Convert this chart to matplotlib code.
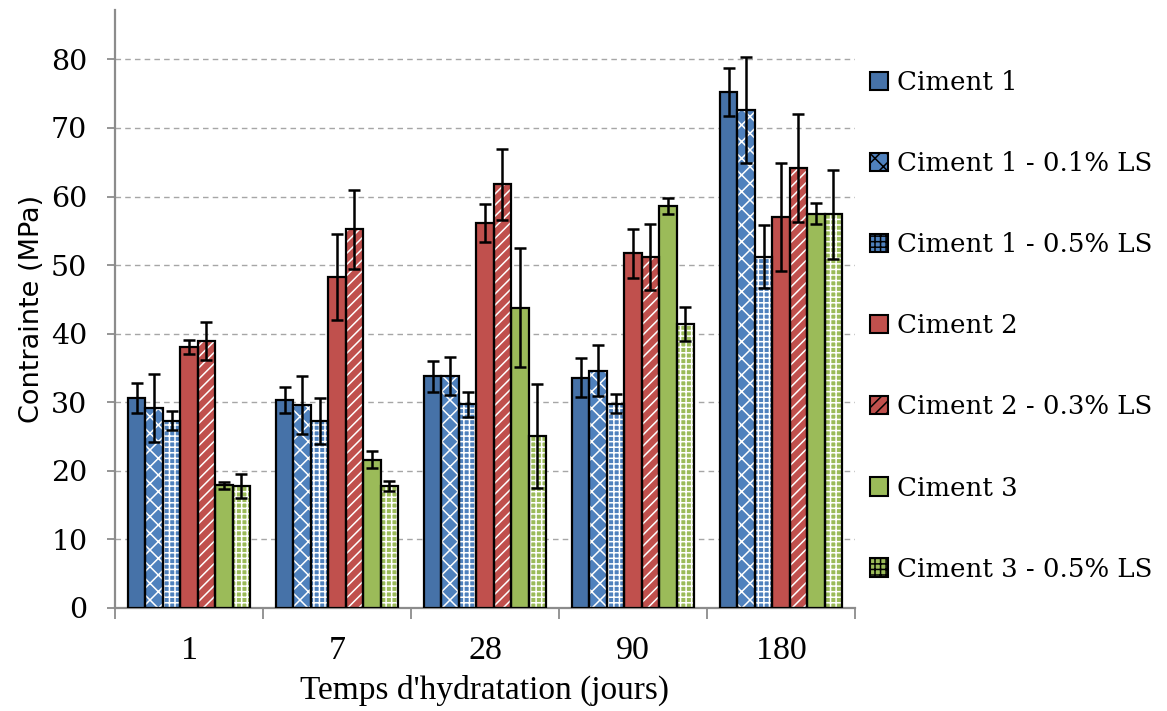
import matplotlib
matplotlib.use("Agg")
import matplotlib.pyplot as plt
import numpy as np
from matplotlib.patches import Patch

groups = ['1', '7', '28', '90', '180']
series_names = ['Ciment 1', 'Ciment 1 - 0.1% LS', 'Ciment 1 - 0.5% LS',
                'Ciment 2', 'Ciment 2 - 0.3% LS', 'Ciment 3', 'Ciment 3 - 0.5% LS']

c1 = [30.6, 30.3, 33.8, 33.6, 75.2]
c1_err = [2.2, 1.9, 2.25, 2.85, 3.5]
c1_01 = [29.15, 29.6, 33.8, 34.6, 72.6]
c1_01_err = [5.0, 4.3, 2.75, 3.7, 7.7]
c1_05 = [27.3, 27.3, 29.7, 29.8, 51.2]
c1_05_err = [1.4, 3.35, 1.85, 1.4, 4.6]
c2 = [38.1, 48.3, 56.1, 51.7, 57.0]
c2_err = [1.0, 6.25, 2.8, 3.6, 7.85]
c2_03 = [38.9, 55.2, 61.8, 51.2, 64.2]
c2_03_err = [2.8, 5.7, 5.15, 4.85, 7.85]
c3 = [17.9, 21.6, 43.8, 58.6, 57.5]
c3_err = [0.5, 1.25, 8.7, 1.2, 1.5]
c3_05 = [17.8, 17.8, 25.1, 41.4, 57.4]
c3_05_err = [1.7, 0.7, 7.6, 2.45, 6.5]

values = [c1, c1_01, c1_05, c2, c2_03, c3, c3_05]
errors = [c1_err, c1_01_err, c1_05_err, c2_err, c2_03_err, c3_err, c3_05_err]

colors = ['#4672A8', '#4F81BD', '#4F81BD', '#C0504D', '#C0504D', '#9BBB59', '#9BBB59']
hatches = [None, 'xx', '+++', None, '///', None, '+++']

plt.rcParams['hatch.linewidth'] = 1.1

fig = plt.figure(figsize=(11.67, 7.11), dpi=100)
ax = fig.add_axes([115/1167, 1 - 608/711, 740/1167, 598/711])

x = np.arange(len(groups))
bw = 0.1178
n = len(values)
for i, (vals, errs) in enumerate(zip(values, errors)):
    pos = x + (i - (n - 1) / 2) * bw
    ax.bar(pos, vals, width=bw, color=colors[i], hatch=hatches[i],
           edgecolor='white', linewidth=0, zorder=2)
    ax.bar(pos, vals, width=bw, facecolor='none', edgecolor='black',
           linewidth=1.6, zorder=3)
    ax.errorbar(pos, vals, yerr=errs, fmt='none', ecolor='black',
                elinewidth=1.8, capsize=4.5, capthick=1.8, zorder=4)

ax.set_xlim(-0.5, len(groups) - 0.5)
ax.set_ylim(0, 87.2)
ax.set_yticks(np.arange(0, 81, 10))
ax.set_yticklabels([str(v) for v in range(0, 81, 10)], fontfamily='DejaVu Serif', fontsize=20.5)
ax.set_xticks(x)
ax.set_xticklabels(groups, fontfamily='Liberation Serif', fontsize=24.5)
ax.set_xticks(np.arange(-0.5, len(groups), 1), minor=True)
ax.tick_params(axis='x', which='major', length=0, pad=20)
ax.tick_params(axis='x', which='minor', length=8, color='#8C8C8C', width=1.3)
ax.tick_params(axis='y', length=6, color='#8C8C8C', width=1.3, pad=14)

for yv in range(10, 81, 10):
    ax.axhline(yv, color='#A6A6A6', linestyle=(0, (4, 3)), linewidth=1.0, zorder=1)

for s in ['top', 'right']:
    ax.spines[s].set_visible(False)
for s in ['left', 'bottom']:
    ax.spines[s].set_color('#8C8C8C')
    ax.spines[s].set_linewidth(1.6)

ax.set_xlabel("Temps d'hydratation (jours)", fontfamily='Liberation Serif', fontsize=24,
              va='center')
ax.xaxis.set_label_coords(0.5, -(690 - 608) / 598)
ax.set_ylabel('Contrainte (MPa)', fontfamily='DejaVu Sans', fontsize=19.5, labelpad=4)

handles = [Patch(facecolor=colors[i], hatch=hatches[i], edgecolor='black', linewidth=1.5)
           for i in range(n)]
leg = fig.legend(handles, series_names, loc='upper left', bbox_to_anchor=(870/1167, 1 - 70/711),
                 frameon=False, prop={'family': 'DejaVu Serif', 'size': 18.7},
                 handlelength=0.7, handleheight=0.7, handletextpad=0.35, labelspacing=2.16,
                 borderaxespad=0, borderpad=0)

fig.savefig('out.png', dpi=100)
